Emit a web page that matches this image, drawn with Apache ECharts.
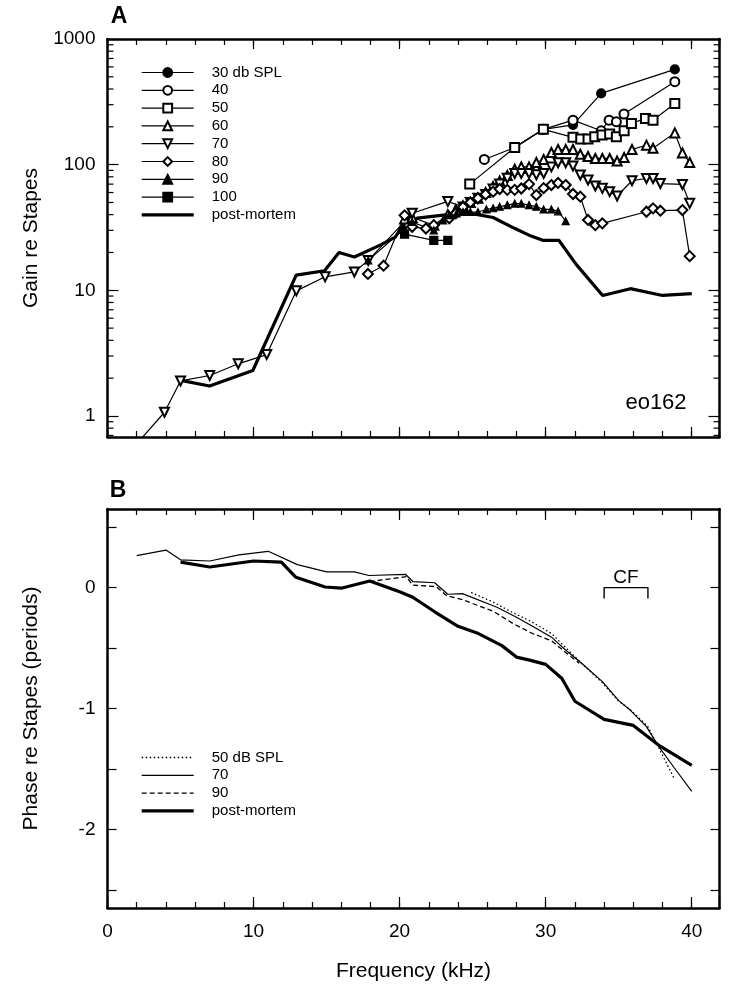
<!DOCTYPE html>
<html><head><meta charset="utf-8">
<script src="https://cdn.jsdelivr.net/npm/echarts@6/dist/echarts.min.js"></script>
<style>html,body{margin:0;padding:0;background:#fff}#c{width:733px;height:992px}</style>
</head><body><div id="c"></div>
<script>
// ---------- Panel A: gain re stapes (frequency in kHz) ----------
const a30F = [27.88, 29.84, 31.87, 33.8, 38.84];
const a30G = [137, 191, 207, 369, 573];
const a40F = [25.8, 27.88, 29.84, 31.87, 33.8, 34.34, 34.84, 35.36, 38.84];
const a40G = [110, 137, 191, 226, 186, 226, 219, 253, 457];
const a50F = [24.8, 27.88, 29.84, 31.87, 32.4, 32.9, 33.36, 33.86, 34.38, 34.84, 35.37, 35.87, 36.83, 37.35, 38.84];
const a50G = [70, 137, 191, 165, 160, 160, 167, 172, 175, 167, 186, 213, 233, 226, 307];
const a60F = [20.34, 20.86, 22.34, 23.3, 23.85, 24.34, 24.84, 25.36, 25.89, 26.4, 26.85, 27.37, 27.88, 28.33, 28.86, 29.36, 29.86, 30.39, 30.85, 31.37, 31.87, 32.37, 32.9, 33.4, 33.88, 34.38, 34.89, 35.37, 35.91, 36.9, 37.35, 38.84, 39.36, 39.86];
const a60G = [37, 38, 33, 40, 44, 47, 50, 54, 60, 67, 74, 82, 92, 96, 96, 104, 110, 125, 132, 132, 132, 121, 116, 112, 112, 112, 107, 114, 132, 143, 135, 179, 124, 104];
const a70F = [2.0, 3.9, 5.0, 7.0, 8.95, 10.9, 12.93, 14.9, 16.9, 17.85, 20.86, 23.3, 24.34, 24.84, 25.36, 25.89, 26.4, 26.85, 27.37, 27.88, 28.33, 28.86, 29.36, 29.86, 30.39, 30.85, 31.37, 31.87, 32.37, 32.9, 33.4, 33.88, 34.38, 34.89, 35.91, 36.9, 37.35, 37.85, 39.36, 39.86];
const a70G = [0.6, 1.07, 1.9, 2.1, 2.6, 3.08, 9.9, 12.8, 14, 17.3, 41, 51, 46, 50, 54, 58, 64, 70, 78, 85, 85, 85, 83, 85, 96, 103.5, 103.5, 97.5, 82.7, 75.4, 67.6, 64.8, 61, 56.3, 74.5, 77.6, 77.6, 70.7, 69.6, 49.2];
const a80F = [17.83, 18.9, 20.34, 20.86, 21.8, 22.34, 23.4, 23.85, 24.34, 24.84, 25.36, 25.89, 26.4, 26.85, 27.37, 27.88, 28.33, 28.86, 29.36, 29.86, 30.39, 30.85, 31.37, 31.87, 32.37, 32.9, 33.4, 33.88, 36.9, 37.35, 37.85, 39.36, 39.86];
const a80G = [13.5, 15.7, 39.5, 32, 31, 33, 37.4, 41, 46, 50, 54, 58, 61, 64, 63, 63, 64.6, 70, 57.3, 65, 68.8, 71.5, 68.8, 58.4, 55.6, 36.3, 33, 34.1, 42.2, 44.9, 43, 43.5, 18.7];
const a90F = [17.85, 20.34, 20.86, 22.34, 22.97, 23.42, 23.9, 24.34, 24.84, 25.36, 25.94, 26.4, 26.85, 27.37, 27.88, 28.33, 28.86, 29.36, 29.86, 30.39, 30.85, 31.37];
const a90G = [17.3, 31, 35, 30, 36, 39.7, 41, 42, 42, 42, 44, 45, 46.3, 47.7, 49, 49, 47.7, 46.3, 44, 44, 42.5, 35.5];
const a100F = [20.34, 22.34, 23.3];
const a100G = [28, 25, 25];
const aPmF = [4.93, 6.99, 9.95, 12.92, 14.86, 15.85, 16.9, 18.7, 19.7, 20.4, 21.2, 23.3, 24.6, 26.4, 27.9, 29.0, 29.8, 30.9, 32.1, 33.9, 35.8, 38.0, 40.0];
const aPmG = [1.93, 1.73, 2.3, 13.2, 14.3, 20, 18.4, 23, 26.5, 35, 37.5, 40, 41.5, 38, 31, 27, 25, 25, 16, 9.1, 10.3, 9.1, 9.4];

// ---------- Panel B: phase re stapes (periods) ----------
const b50F = [24.9, 26.4, 27.8, 29.0, 30.4, 31.4, 32.4, 33.9, 35.0, 35.8, 37.0, 37.6, 38.8];
const b50P = [-0.04, -0.12, -0.21, -0.28, -0.38, -0.5, -0.62, -0.79, -0.94, -1.01, -1.15, -1.29, -1.58];
const b70F = [2, 4, 5, 7, 9, 11, 13, 15, 16.9, 17.9, 20.4, 20.9, 22.4, 23.3, 24.3, 26.7, 28.0, 29.1, 30.4, 31.3, 32.5, 33.9, 35.0, 35.8, 36.9, 37.6, 38.8, 40.0];
const b70P = [0.265, 0.31, 0.23, 0.22, 0.27, 0.30, 0.19, 0.13, 0.13, 0.1, 0.11, 0.05, 0.04, -0.055, -0.05, -0.165, -0.245, -0.32, -0.41, -0.51, -0.63, -0.78, -0.935, -1.015, -1.15, -1.29, -1.49, -1.685];
const b90F = [17.95, 20.46, 20.9, 22.5, 23.2, 24.3, 26.4, 27.8, 29.1, 30.4, 31.3, 32.3];
const b90P = [0.05, 0.09, 0.02, 0.008, -0.065, -0.1, -0.195, -0.3, -0.38, -0.44, -0.53, -0.625];
const bPmF = [5, 7, 10, 11.9, 12.9, 14.9, 16, 17.95, 20, 20.9, 22.4, 24, 25.3, 27, 28, 28.9, 30, 31.1, 32, 34, 36, 37.7, 40];
const bPmP = [0.21, 0.17, 0.22, 0.21, 0.085, 0.005, -0.005, 0.055, -0.035, -0.08, -0.2, -0.32, -0.375, -0.48, -0.575, -0.6, -0.635, -0.75, -0.94, -1.09, -1.14, -1.3, -1.47];

// CF bracket (kHz range) and label
const cfRange = [34, 37];
const cfDepth = -0.09;

// Axis ranges
const xMax = 41.9;
const gainMin = 0.68, gainMax = 1000;
const phaseMin = -2.65, phaseMax = 0.65;
const phaseTicks = [-2.5, -2, -1.5, -1, -0.5, 0, 0.5];
const phaseLabels = [-2, -1, 0];

const FONT = '"Liberation Sans", Arial, Helvetica, sans-serif';
const zip = (xs, ys) => xs.map((x, i) => [x, ys[i]]);

const minorLogTicks = [];
for (let e = -1; e <= 2; e++) for (let m = 2; m <= 9; m++) {
  const v = m * Math.pow(10, e);
  if (v > gainMin && v < gainMax) minorLogTicks.push([0, v]);
}

const chart = echarts.init(document.getElementById('c'), null, {renderer: 'canvas'});

function xAx(grid, pos, interval, len, opts) {
  return Object.assign({
    type: 'value', gridIndex: grid, position: pos, min: 0, max: xMax, interval: interval,
    axisLine: {show: true, onZero: false, lineStyle: {color: '#000', width: 2.5}},
    axisTick: {show: true, inside: true, length: len, lineStyle: {color: '#000', width: 1.2}},
    axisLabel: {show: false}, splitLine: {show: false}
  }, opts || {});
}
const xAxes = [
  xAx(0, 'bottom', 2, 6), xAx(0, 'top', 2, 6),
  xAx(0, 'bottom', 10, 10, {axisLine: {show: false, onZero: false}}),
  xAx(0, 'top', 10, 10, {axisLine: {show: false, onZero: false}}),
  xAx(1, 'bottom', 2, 6, {
    axisLabel: {show: true, margin: 14, fontSize: 19, fontFamily: FONT, color: '#000',
      formatter: v => (Math.abs(v % 10) < 1e-6 ? String(Math.round(v)) : '')},
    name: 'Frequency (kHz)', nameLocation: 'middle', nameGap: 53,
    nameTextStyle: {fontSize: 21, fontFamily: FONT, color: '#000'}
  }),
  xAx(1, 'top', 2, 6),
  xAx(1, 'bottom', 10, 11, {axisLine: {show: false, onZero: false}}),
  xAx(1, 'top', 10, 11, {axisLine: {show: false, onZero: false}})
];

function logAx(pos, labels) {
  return {
    type: 'log', logBase: 10, gridIndex: 0, position: pos, min: gainMin, max: gainMax, splitNumber: 3,
    axisLine: {show: true, onZero: false, lineStyle: {color: '#000', width: 2.5}},
    axisTick: {show: true, inside: true, length: 11, lineStyle: {color: '#000', width: 1.2}},
    splitLine: {show: false}, minorTick: {show: false},
    axisLabel: labels ? {show: true, margin: 12, fontSize: 19, fontFamily: FONT, color: '#000',
      showMinLabel: false, padding: [5, 0, 0, 0],
      formatter: v => { const l = Math.log10(v); return Math.abs(l - Math.round(l)) < 1e-4 ? String(Math.round(Math.pow(10, Math.round(l)))) : ''; }
    } : {show: false},
    name: labels ? 'Gain re Stapes' : '', nameLocation: 'middle', nameGap: 66, nameRotate: 90,
    nameTextStyle: {fontSize: 21, fontFamily: FONT, color: '#000'}
  };
}
function phAx(pos, labels) {
  return {
    type: 'value', gridIndex: 1, position: pos, min: phaseMin, max: phaseMax, splitNumber: 7,
    axisLine: {show: true, onZero: false, lineStyle: {color: '#000', width: 2.5}},
    axisTick: {show: true, inside: true, length: 9, customValues: phaseTicks, lineStyle: {color: '#000', width: 1.2}},
    splitLine: {show: false},
    axisLabel: labels ? {show: true, margin: 12, fontSize: 19, fontFamily: FONT, color: '#000', customValues: phaseLabels,
      padding: [3, 0, 0, 0],
      formatter: v => (Math.abs(v - Math.round(v)) < 1e-6 ? String(Math.round(v)) : '')} : {show: false},
    name: labels ? 'Phase re Stapes (periods)' : '', nameLocation: 'middle', nameGap: 66, nameRotate: 90,
    nameTextStyle: {fontSize: 21, fontFamily: FONT, color: '#000'}
  };
}

function gainSeries(name, f, g, symbol, size, extra) {
  return Object.assign({
    name: name, type: 'line', xAxisIndex: 0, yAxisIndex: 0, data: zip(f, g),
    symbol: symbol, symbolSize: size, showAllSymbol: true, clip: true,
    lineStyle: {color: '#000', width: 1.2}, itemStyle: {color: '#000', borderColor: '#000', borderWidth: 1.2},
    emphasis: {disabled: true}, z: 3
  }, extra || {});
}
function phaseSeries(name, f, p, width, type) {
  return {
    name: name, type: 'line', xAxisIndex: 4, yAxisIndex: 2, data: zip(f, p), symbol: 'none', clip: true,
    lineStyle: {color: '#000', width: width, type: type}, itemStyle: {color: '#000'},
    emphasis: {disabled: true}, z: 3
  };
}

const hid = {opacity: 0};
const thin = {width: 1.2, color: '#000'};
const thick = {width: 3.4, color: '#000'};
const legendBase = {
  orient: 'vertical', left: 135, itemWidth: 52, itemHeight: 11, itemGap: 2.8,
  selectedMode: false,
  textStyle: {fontSize: 15, fontFamily: FONT, color: '#000', padding: [0, 0, 0, 13]}
};
const option = {
  backgroundColor: '#fff',
  animation: false,
  grid: [
    {left: 107.5, top: 39, width: 612, height: 398},
    {left: 107.5, top: 509, width: 612, height: 399}
  ],
  xAxis: xAxes,
  yAxis: [logAx('left', true), logAx('right', false), phAx('left', true), phAx('right', false)],
  legend: [
    Object.assign({}, legendBase, {
      top: 60,
      data: ['30 db SPL', '40', '50', '60', '70', '80', '90', '100'].map(n => ({name: n, lineStyle: thin}))
        .concat([{name: 'post-mortem', itemStyle: hid, lineStyle: thick}])
    }),
    Object.assign({}, legendBase, {
      top: 745,
      data: [
        {name: '50 dB SPL', itemStyle: hid, lineStyle: {width: 1.3, color: '#000', type: [1.5, 2.5]}},
        {name: '70 ', itemStyle: hid, lineStyle: thin},
        {name: '90 ', itemStyle: hid, lineStyle: {width: 1.3, color: '#000', type: [5, 3]}},
        {name: 'post-mortem ', itemStyle: hid, lineStyle: thick}
      ]
    })
  ],
  graphic: [
    {type: 'text', x: 119, y: 17, style: {text: 'A', fontSize: 23, fontWeight: 'bold', fontFamily: FONT, fill: '#000', align: 'center', verticalAlign: 'middle'}},
    {type: 'text', x: 118, y: 491, style: {text: 'B', fontSize: 23, fontWeight: 'bold', fontFamily: FONT, fill: '#000', align: 'center', verticalAlign: 'middle'}},
    {type: 'text', x: 656, y: 403, style: {text: 'eo162', fontSize: 22, fontFamily: FONT, fill: '#000', align: 'center', verticalAlign: 'middle'}}
  ],
  series: [
    gainSeries('post-mortem', aPmF, aPmG, 'none', 0, {lineStyle: {color: '#000', width: 3.2}, z: 2}),
    gainSeries('30 db SPL', a30F, a30G, 'circle', 9),
    gainSeries('40', a40F, a40G, 'emptyCircle', 9),
    gainSeries('50', a50F, a50G, 'emptyRect', 9),
    gainSeries('60', a60F, a60G, 'emptyTriangle', 9),
    gainSeries('70', a70F, a70G, 'emptyTriangle', 9, {symbolRotate: 180}),
    gainSeries('80', a80F, a80G, 'emptyDiamond', 10),
    gainSeries('90', a90F, a90G, 'triangle', 7),
    gainSeries('100', a100F, a100G, 'rect', 8),
    {
      name: 'logMinorTicks', type: 'custom', xAxisIndex: 0, yAxisIndex: 0, data: minorLogTicks, silent: true, z: 10,
      renderItem: function (params, api) {
        const v = api.value(1);
        const a = api.coord([0, v]);
        const b = api.coord([xMax, v]);
        return {type: 'group', children: [
          {type: 'line', shape: {x1: a[0], y1: a[1], x2: a[0] + 6, y2: a[1]}, style: {stroke: '#000', lineWidth: 1.2}},
          {type: 'line', shape: {x1: b[0] - 6, y1: b[1], x2: b[0], y2: b[1]}, style: {stroke: '#000', lineWidth: 1.2}}
        ]};
      }
    },
    phaseSeries('50 dB SPL', b50F, b50P, 1.3, [1.5, 2.5]),
    phaseSeries('70 ', b70F, b70P, 1.2, 'solid'),
    phaseSeries('90 ', b90F, b90P, 1.3, [5, 3]),
    phaseSeries('post-mortem ', bPmF, bPmP, 3.2, 'solid'),
    {
      name: 'CF', type: 'line', xAxisIndex: 4, yAxisIndex: 2, symbol: 'none', silent: true,
      data: [[cfRange[0], cfDepth], [cfRange[0], 0], [cfRange[1], 0], [cfRange[1], cfDepth]],
      lineStyle: {color: '#000', width: 1.4},
      markPoint: {
        symbol: 'circle', symbolSize: 0, silent: true,
        data: [{coord: [(cfRange[0] + cfRange[1]) / 2, 0], label: {show: true, formatter: 'CF', position: 'top', distance: 0,
          fontSize: 19, fontFamily: FONT, color: '#000'}}]
      }
    }
  ]
};
chart.setOption(option);
</script>
</body></html>
